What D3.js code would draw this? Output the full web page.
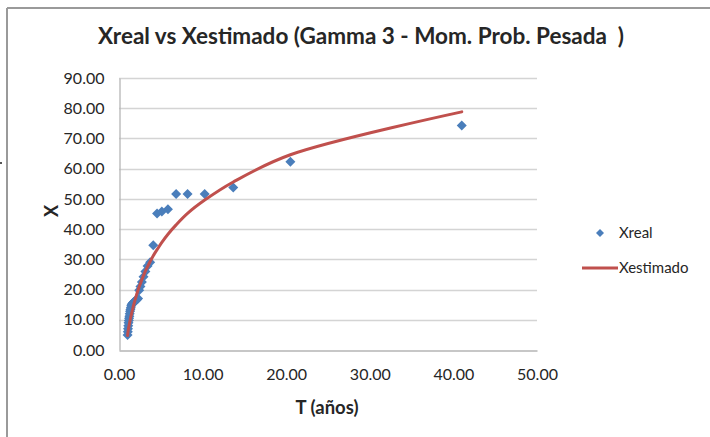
<!DOCTYPE html>
<html>
<head>
<meta charset="utf-8">
<script src="https://cdn.jsdelivr.net/npm/d3@7"></script>
<style>
  html, body { margin: 0; padding: 0; background: #fff; }
  svg { display: block; }
  text { font-family: Lato, "Open Sans", sans-serif; fill: #262626; }
</style>
</head>
<body>
<svg id="chart" width="710" height="437"></svg>
<script>
// Return periods T (años), Weibull plotting positions for 40 ranked values
const periods = [1.025, 1.051, 1.079, 1.108, 1.139, 1.171, 1.206, 1.242, 1.281, 1.323,
                 1.367, 1.414, 1.464, 1.519, 1.577, 1.640, 1.708, 1.783, 1.864, 1.952,
                 2.050, 2.158, 2.278, 2.412, 2.563, 2.733, 2.929, 3.154, 3.417, 3.727,
                 4.100, 4.556, 5.125, 5.857, 6.833, 8.200, 10.250, 13.667, 20.500, 41.000];

// Observed values (Xreal)
const xReal = [5.0, 6.0, 7.0, 8.0, 9.0, 9.8, 10.5, 11.2, 12.0, 12.8,
               13.4, 14.0, 14.6, 15.0, 15.3, 15.5, 15.7, 15.9, 16.1, 16.3,
               16.5, 16.7, 17.0, 19.8, 21.0, 22.5, 24.2, 26.0, 27.8, 29.0,
               34.7, 45.2, 45.8, 46.6, 51.6, 51.6, 51.6, 53.8, 62.3, 74.3];

// Fitted values, Gamma 3 by probability-weighted moments (Xestimado)
const xEst = [4.8, 5.4, 6.0, 6.6, 7.1, 7.6, 8.1, 8.6, 9.2, 9.8,
              10.4, 11.0, 11.6, 12.2, 12.9, 13.6, 14.4, 15.2, 16.0, 16.9,
              17.8, 18.8, 19.8, 20.9, 22.0, 23.3, 24.6, 26.1, 27.6, 29.3,
              31.2, 33.2, 35.6, 38.3, 41.4, 45.2, 49.6, 55.6, 64.6, 78.8];

const xTicks = [0, 10, 20, 30, 40, 50];
const yTicks = [0, 10, 20, 30, 40, 50, 60, 70, 80, 90];

const titleText = "Xreal vs Xestimado (Gamma 3 - Mom. Prob. Pesada  )";
const xTitle = "T (años)";
const yTitle = "X";
const seriesNames = ["Xreal", "Xestimado"];

const blue = "#4a7ebb";
const red = "#c0504d";

const svg = d3.select("#chart");

// outer frame (top and left edges)
svg.append("line").attr("x1", 7).attr("y1", 8).attr("x2", 710).attr("y2", 8)
  .attr("stroke", "#9a9a9a").attr("stroke-width", 2);
svg.append("line").attr("x1", 7).attr("y1", 8).attr("x2", 7).attr("y2", 437)
  .attr("stroke", "#9a9a9a").attr("stroke-width", 2);
svg.append("rect").attr("x", 0).attr("y", 162).attr("width", 2).attr("height", 2).attr("fill", "#555");

const plot = { left: 119, right: 537, top: 78, bottom: 350 };

const x = d3.scaleLinear().domain([0, 50]).range([plot.left, plot.right]);
const y = d3.scaleLinear().domain([0, 90]).range([plot.bottom, plot.top]);

// horizontal gridlines
svg.append("g")
  .selectAll("line")
  .data(yTicks.filter(d => d > 0))
  .join("line")
  .attr("x1", plot.left).attr("x2", plot.right)
  .attr("y1", d => Math.round(y(d)) + 0.5).attr("y2", d => Math.round(y(d)) + 0.5)
  .attr("stroke", "#d4d4d4").attr("stroke-width", 1.3);

// y axis
const yAxis = svg.append("g")
  .attr("transform", `translate(${plot.left + 0.5},0)`)
  .call(d3.axisLeft(y).tickValues(yTicks).tickFormat(d3.format(".2f")).tickSize(0).tickPadding(15));
yAxis.select(".domain").attr("stroke", "#b5b5b5").attr("stroke-width", 1.3);
yAxis.selectAll("text").style("font-size", "16px").attr("fill", "#262626");

// x axis
const xAxis = svg.append("g")
  .attr("transform", `translate(0,${plot.bottom + 0.5})`)
  .call(d3.axisBottom(x).tickValues(xTicks).tickFormat(d3.format(".2f")).tickSize(0).tickPadding(18));
xAxis.select(".domain").attr("stroke", "#b5b5b5").attr("stroke-width", 1.3);
xAxis.selectAll("text").style("font-size", "16px").attr("fill", "#262626");

// observed points as diamonds
const diamond = d3.symbol(d3.symbolSquare, 50);
svg.append("g")
  .selectAll("path")
  .data(xReal)
  .join("path")
  .attr("d", diamond)
  .attr("transform", (d, i) => `translate(${x(periods[i])},${y(d)}) rotate(45)`)
  .attr("fill", blue);

// fitted curve, drawn over the points
const line = d3.line()
  .x((d, i) => x(periods[i]))
  .y(d => y(d))
  .curve(d3.curveCatmullRom.alpha(0.5));
svg.append("path")
  .datum(xEst)
  .attr("d", line)
  .attr("fill", "none")
  .attr("stroke", red)
  .attr("stroke-width", 3)
  .attr("stroke-linecap", "round");

// title
svg.append("text")
  .attr("x", 361).attr("y", 44)
  .attr("text-anchor", "middle")
  .attr("xml:space", "preserve")
  .style("white-space", "pre")
  .style("font-size", "22.5px").style("font-weight", "bold")
  .attr("fill", "#000")
  .text(titleText);

// axis titles
svg.append("text")
  .attr("x", 327).attr("y", 414)
  .attr("text-anchor", "middle")
  .style("font-size", "18.5px").style("font-weight", "bold")
  .attr("fill", "#000")
  .text(xTitle);

svg.append("text")
  .attr("transform", "translate(58,211) rotate(-90)")
  .attr("text-anchor", "middle")
  .style("font-size", "18px").style("font-weight", "bold")
  .attr("fill", "#000")
  .text(yTitle);

// legend
const legend = svg.append("g");
legend.append("path")
  .attr("d", d3.symbol(d3.symbolSquare, 32))
  .attr("transform", "translate(600,233) rotate(45)")
  .attr("fill", blue);
legend.append("text")
  .attr("x", 619).attr("y", 233).attr("dy", "0.35em")
  .style("font-size", "15px")
  .text(seriesNames[0]);
legend.append("line")
  .attr("x1", 582).attr("x2", 618).attr("y1", 268).attr("y2", 268)
  .attr("stroke", red).attr("stroke-width", 3);
legend.append("text")
  .attr("x", 619).attr("y", 268).attr("dy", "0.35em")
  .style("font-size", "15px")
  .text(seriesNames[1]);
</script>
</body>
</html>
